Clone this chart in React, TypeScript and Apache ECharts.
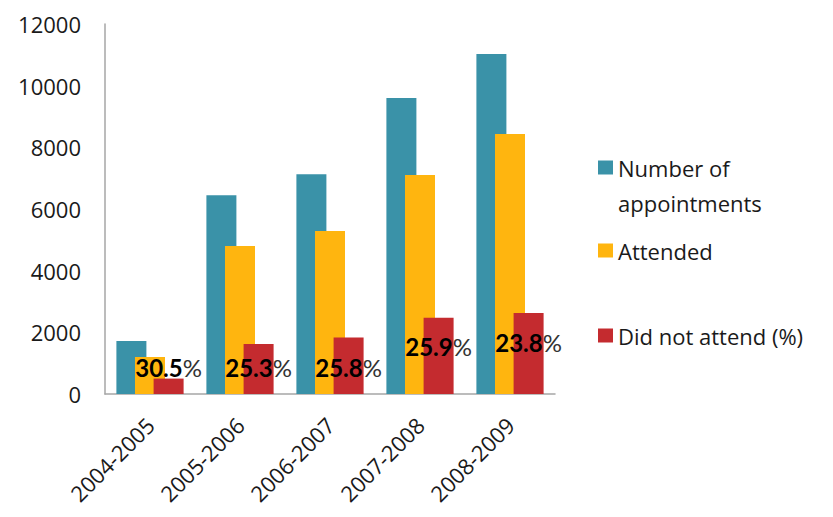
import React, { useEffect, useRef } from "react";
import * as echarts from "echarts";

const categories = ["2004-2005", "2005-2006", "2006-2007", "2007-2008", "2008-2009"];
const appointments = [1720, 6450, 7130, 9600, 11030];
const attended = [1200, 4800, 5290, 7100, 8430];
const didNotAttend = [500, 1620, 1830, 2470, 2630];
const didNotAttendPct = ["30.5", "25.3", "25.8", "25.9", "23.8"];
const yTicks = { min: 0, max: 12000, interval: 2000 };

const FONT = "'Open Sans', Lato, sans-serif";
const LABEL_FONT = "Lato, 'Open Sans', sans-serif";
const COLORS = ["#3A92A8", "#FFB50F", "#C42B2F"];
// label lift (distance from bar bottom) for each red bar's percentage label
const pctLabelDistance = [15, 15, 15, 36, 40];

export default function App() {
  const ref = useRef<HTMLDivElement>(null);
  useEffect(() => {
    if (!ref.current) return;
    const chart = echarts.init(ref.current, undefined, { renderer: "svg" });
    const legendText = { fontFamily: FONT, fontSize: 22, color: "#1a1a1a", lineHeight: 35 };
    const legendBase = {
      orient: "vertical",
      left: 590,
      padding: 0,
      itemWidth: 15,
      itemHeight: 14,
      itemGap: 0,
      icon: "rect",
      textStyle: legendText,
    };
    chart.setOption({
      animation: false,
      backgroundColor: "#ffffff",
      grid: { left: 97, right: 270, top: 16, bottom: 115, containLabel: false },
      xAxis: {
        type: "category",
        data: categories,
        axisLine: { lineStyle: { color: "#A6A6A6", width: 1.5 } },
        axisTick: { show: false },
        axisLabel: {
          rotate: 45,
          margin: 27,
          fontFamily: FONT,
          fontSize: 22,
          color: "#1a1a1a",
        },
      },
      yAxis: {
        type: "value",
        min: yTicks.min,
        max: yTicks.max,
        interval: yTicks.interval,
        axisLine: { show: true, lineStyle: { color: "#A6A6A6", width: 1.5 } },
        axisTick: { show: false },
        splitLine: { show: false },
        axisLabel: {
          fontFamily: FONT,
          fontSize: 22,
          color: "#1a1a1a",
          margin: 24,
          formatter: (v: number) => String(v),
        },
      },
      legend: [
        {
          ...legendBase,
          top: 167 - 8 - 52,
          data: ["Number of appointments"],
          formatter: () => " \nNumber of\nappointments",
        },
        {
          ...legendBase,
          top: 250 - 8 - 17,
          data: ["Attended"],
        },
        {
          ...legendBase,
          top: 335 - 8 - 17,
          data: ["Did not attend (%)"],
        },
      ],
      series: [
        {
          name: "Number of appointments",
          type: "bar",
          data: appointments,
          barWidth: 30,
          barGap: "-38%",
          itemStyle: { color: COLORS[0] },
        },
        {
          name: "Attended",
          type: "bar",
          data: attended,
          barWidth: 30,
          barGap: "-38%",
          itemStyle: { color: COLORS[1] },
        },
        {
          name: "Did not attend (%)",
          type: "bar",
          data: didNotAttend.map((v, i) => ({
            value: v,
            label: { distance: pctLabelDistance[i] },
          })),
          barWidth: 30,
          barGap: "-38%",
          itemStyle: { color: COLORS[2] },
          z: 3,
          label: {
            show: true,
            position: "insideBottom",
            formatter: (p: any) => `{n|${didNotAttendPct[p.dataIndex]}}{p|%}`,
            rich: {
              n: { fontFamily: LABEL_FONT, fontSize: 24, fontWeight: "bold", color: "#000000" },
              p: { fontFamily: LABEL_FONT, fontSize: 24, fontWeight: "normal", color: "#333333" },
            },
          },
        },
      ],
    });
    return () => chart.dispose();
  }, []);
  return <div ref={ref} style={{ width: 817, height: 501 }} />;
}
